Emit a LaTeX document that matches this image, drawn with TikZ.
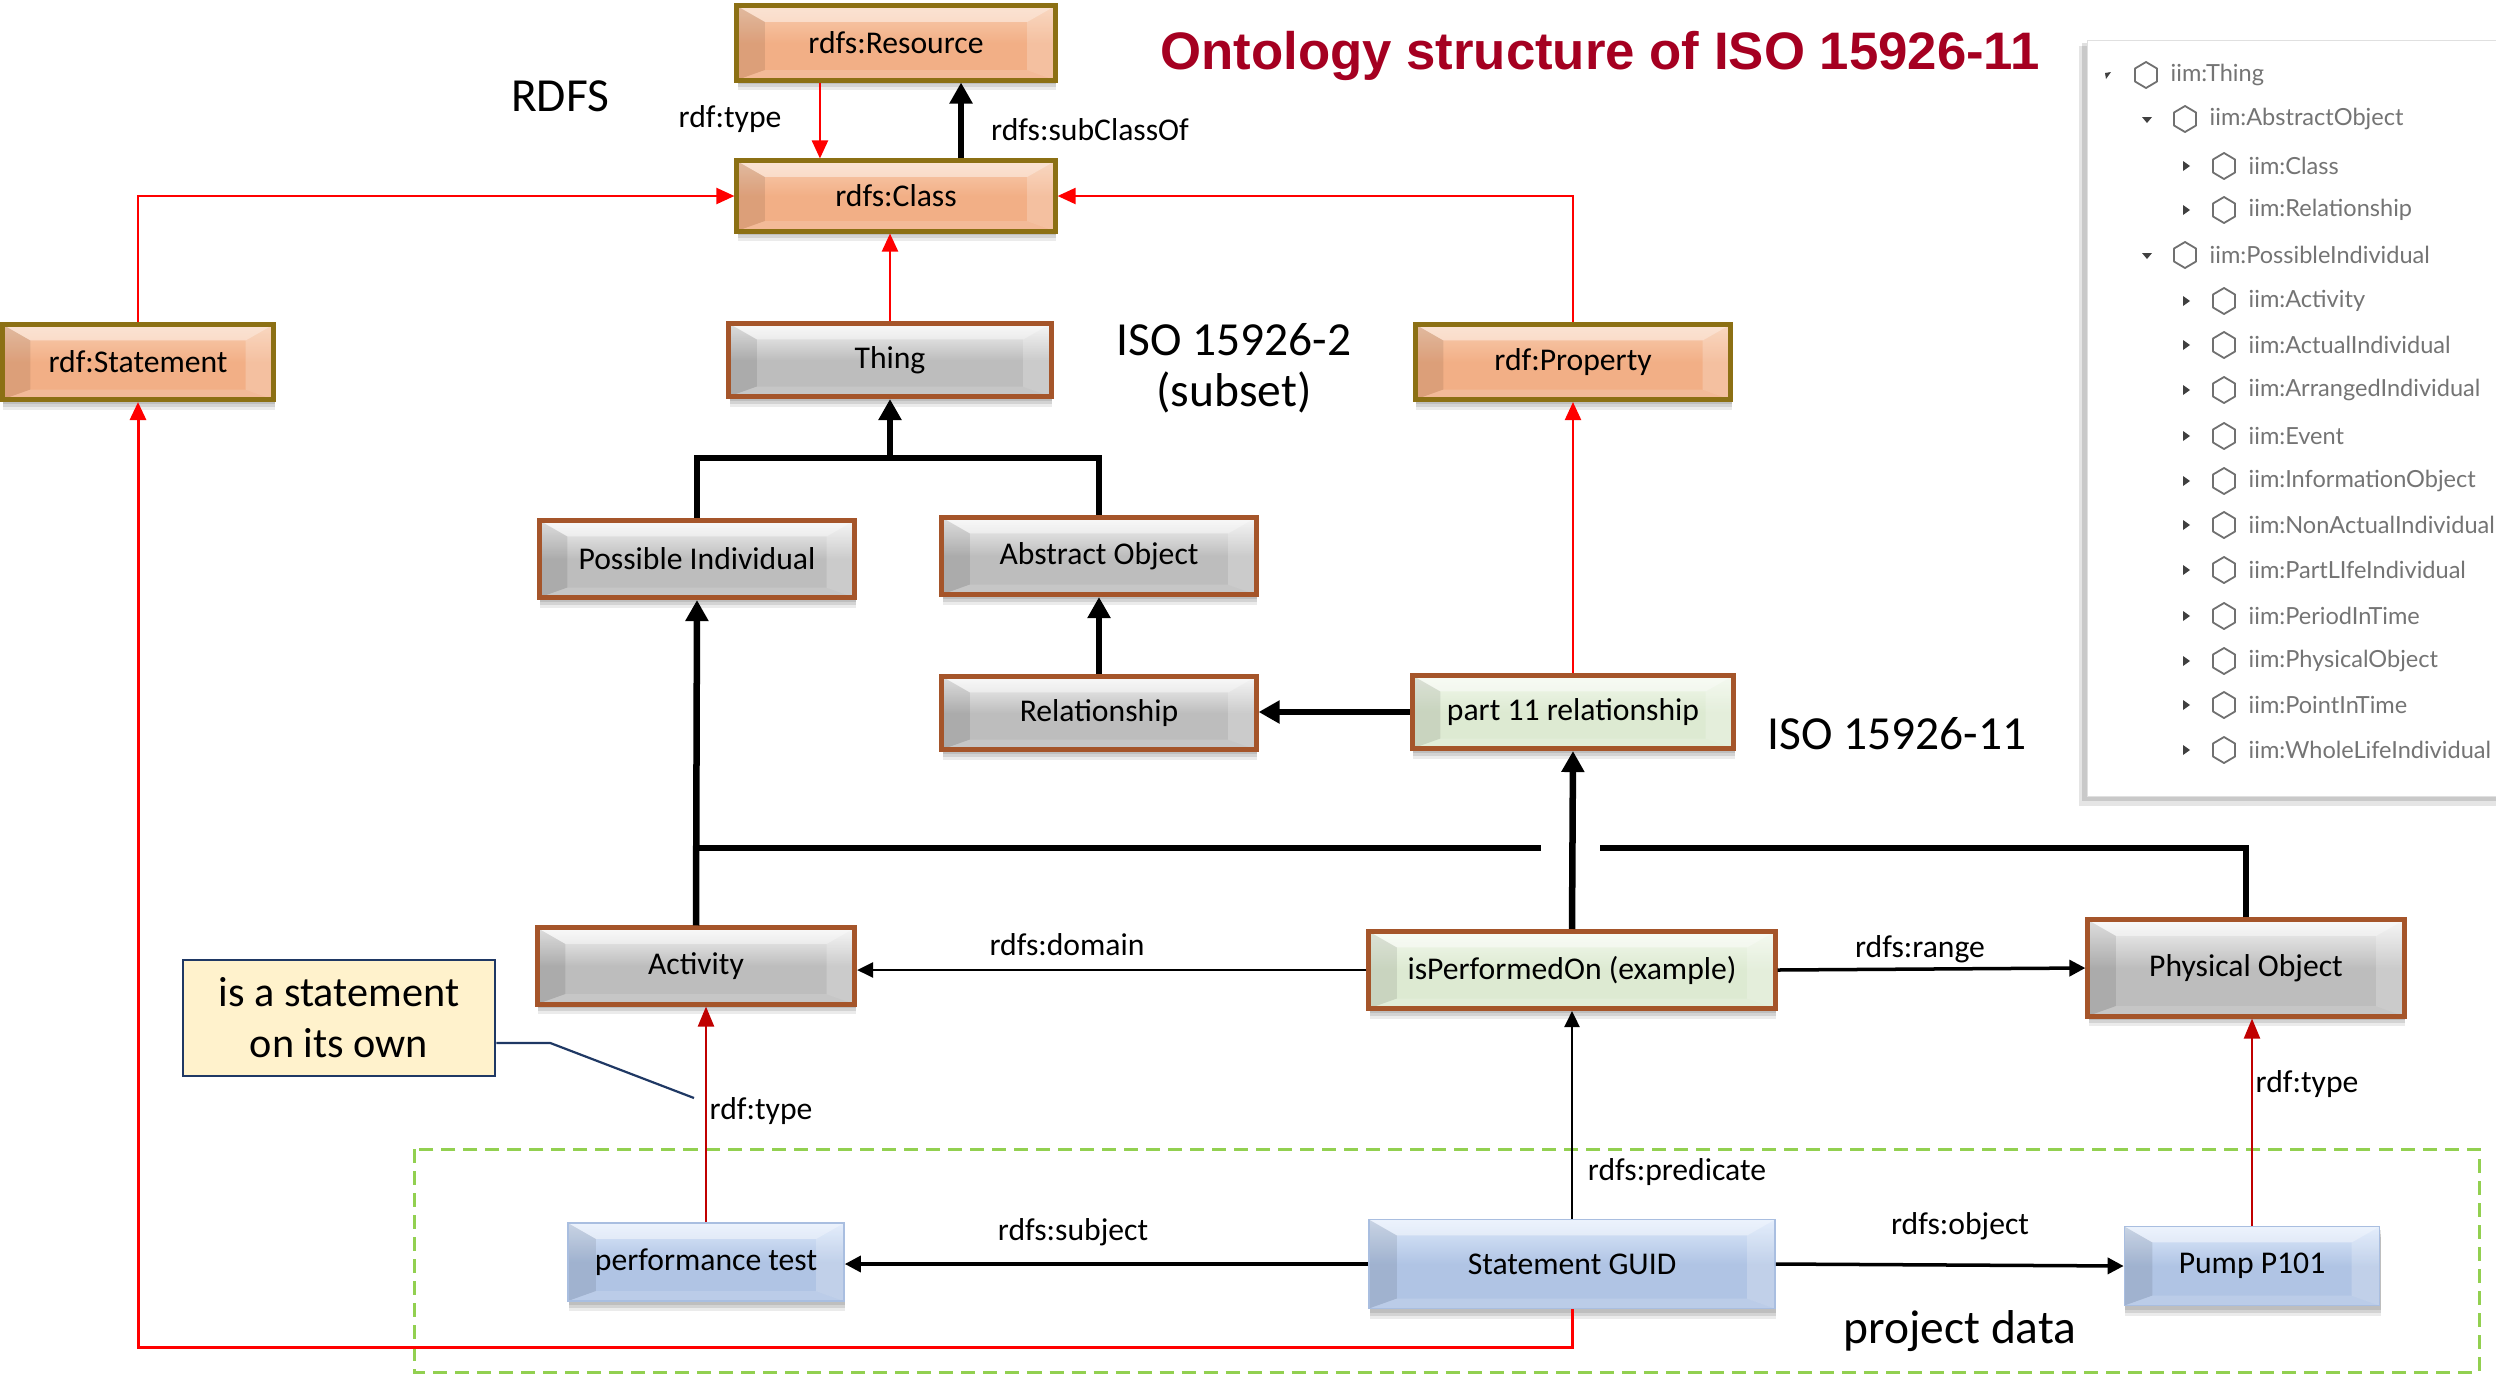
\documentclass[tikz,border=0pt]{standalone}
\usepackage{fontspec}
\setmainfont{Carlito}
\newfontfamily\titlefont{Liberation Sans}
\newfontfamily\panelfont{Lato}
\usetikzlibrary{arrows.meta,calc,shadows}

\definecolor{titlered}{HTML}{A50021}
\definecolor{frbrown}{HTML}{A5552A}
\definecolor{frgold}{HTML}{8C7014}
\definecolor{grayface}{HTML}{BDBDBD}
\definecolor{graytop}{HTML}{F4F4F4}
\definecolor{orface}{HTML}{F2AF86}
\definecolor{ortop}{HTML}{F8CDB0}
\definecolor{grface}{HTML}{DDEAD2}
\definecolor{grtop}{HTML}{F2F8EC}
\definecolor{blface}{HTML}{B0C4E4}
\definecolor{bltop}{HTML}{DDE9FB}
\definecolor{blframe}{HTML}{A9BEE0}
\definecolor{notefill}{HTML}{FFF2CC}
\definecolor{navy}{HTML}{1F3864}
\definecolor{typered}{HTML}{C00000}
\definecolor{dashgreen}{HTML}{92D050}
\definecolor{paneltext}{HTML}{747474}
\definecolor{hexgray}{HTML}{707070}

\tikzset{
  x=0.01cm, y=-0.01cm,
  box/.style={rectangle, inner sep=0pt, font=\fontsize{9}{11}\selectfont,
    drop shadow={shadow xshift=0.01cm, shadow yshift=-0.04cm, opacity=0.10, fill=black},
    drop shadow={shadow xshift=0.01cm, shadow yshift=-0.07cm, opacity=0.10, fill=black},
    drop shadow={shadow xshift=0.01cm, shadow yshift=-0.10cm, opacity=0.08, fill=black}},
  bevel/.style 2 args={path picture={
    \coordinate (pnw) at (path picture bounding box.north west);
    \coordinate (pne) at (path picture bounding box.north east);
    \coordinate (psw) at (path picture bounding box.south west);
    \coordinate (pse) at (path picture bounding box.south east);
    \shade[top color=#1, bottom color=#2, middle color=#2] (psw) rectangle (pne);
    \fill[white, opacity=0.45] (pnw) -- (pne) -- ($(pne)+(-28,16)$) -- ($(pnw)+(28,16)$) -- cycle;
    \fill[black, opacity=0.09] (pnw) -- ($(pnw)+(28,16)$) -- ($(psw)+(28,-10)$) -- (psw) -- cycle;
    \fill[white, opacity=0.22] (pne) -- ($(pne)+(-28,16)$) -- ($(pse)+(-28,-10)$) -- (pse) -- cycle;
    \fill[white, opacity=0.15] (psw) -- (pse) -- ($(pse)+(-28,-10)$) -- ($(psw)+(28,-10)$) -- cycle;
  }},
  graybox/.style={box, bevel={graytop}{grayface}, draw=frbrown, line width=0.05cm},
  greenbox/.style={box, bevel={grtop}{grface}, draw=frbrown, line width=0.05cm},
  orbox/.style={box, bevel={ortop}{orface}, draw=frgold, line width=0.05cm},
  bluebox/.style={box, bevel={bltop}{blface}, draw=blframe, line width=0.015cm},
  notebox/.style={rectangle, fill=notefill, draw=navy, line width=0.025cm,
    align=center, font=\fontsize{12}{14.5}\selectfont},
  lbl/.style={inner sep=0pt, font=\fontsize{9}{11}\selectfont},
  biglbl/.style={inner sep=0pt, align=center, font=\fontsize{13.5}{14.5}\selectfont},
  isa/.style={line width=0.065cm, -{Triangle[width=0.22cm,length=0.21cm]}},
  isaline/.style={line width=0.065cm},
  rdfred/.style={red, line width=0.022cm, -{Triangle[width=0.16cm,length=0.18cm]}},
  typearrow/.style={typered, line width=0.022cm, -{Triangle[width=0.16cm,length=0.2cm]}},
  prop/.style={black, line width=0.025cm, -{Triangle[width=0.15cm,length=0.16cm]}},
  propthick/.style={black, line width=0.035cm, -{Triangle[width=0.16cm,length=0.16cm]}},
  stmline/.style={red, line width=0.03cm, -{Triangle[width=0.16cm,length=0.18cm]}},
  paneltxt/.style={anchor=west, inner sep=0pt, text=paneltext,
    font=\panelfont\fontsize{6.7}{8}\selectfont},
}

\begin{document}
\begin{tikzpicture}
\useasboundingbox (0,0) rectangle (2496,1375);

% title and section captions
\node[font=\titlefont\bfseries\fontsize{15}{18}\selectfont, text=titlered, inner sep=0pt]
  (title) at (1600,56) {Ontology structure of ISO 15926-11};
\node[biglbl] (rdfs) at (560,96) {RDFS};
\node[biglbl] (iso2) at (1234,368) {ISO 15926-2\\(subset)};
\node[biglbl] (iso11) at (1897,734) {ISO 15926-11};

% project data frame
\draw[dashgreen, line width=0.03cm, dash pattern=on 0.14cm off 0.08cm]
  (414,1149) rectangle (2479,1372);
\node[biglbl] (pdata) at (1960,1331) {project data};

% class hierarchy browser
\fill[black, opacity=0.10] (2079,46) rectangle (2510,806);
\fill[black, opacity=0.12] (2082,43) rectangle (2510,801);
\fill[white] (2087,40) rectangle (2510,796);
\draw[black!12, line width=0.01cm] (2087,40) rectangle (2510,796);
\foreach \lv/\yy/\tx in {
  1/75/iim:Thing, 2/119/iim:AbstractObject, 3/166/iim:Class,
  3/210/iim:Relationship, 2/255/iim:PossibleIndividual, 3/301/iim:Activity,
  3/345/iim:ActualIndividual, 3/390/iim:ArrangedIndividual, 3/436/iim:Event,
  3/481/iim:InformationObject, 3/525/iim:NonActualIndividual,
  3/570/iim:PartLIfeIndividual, 3/616/iim:PeriodInTime,
  3/661/iim:PhysicalObject, 3/705/iim:PointInTime, 3/750/iim:WholeLifeIndividual}{
  \pgfmathsetmacro{\xt}{2108+39*(\lv-1)}
  \pgfmathsetmacro{\xh}{\xt+38}
  \pgfmathsetmacro{\xl}{\xt+62}
  \ifnum\lv=3
    \fill[black!75] (\xt-3,\yy-5) -- (\xt+4,\yy) -- (\xt-3,\yy+5) -- cycle;
  \else\ifnum\lv=2
    \fill[black!75] (\xt-5,\yy-2) -- (\xt+5,\yy-2) -- (\xt,\yy+4) -- cycle;
  \else
    \fill[black!75] (\xt-3,\yy-2) -- (\xt+3,\yy-3) -- (\xt-2,\yy+4) -- cycle;
  \fi\fi
  \draw[hexgray, line width=0.018cm, line join=round]
    (\xh,\yy-13) -- (\xh+11,\yy-6.5) -- (\xh+11,\yy+6.5) -- (\xh,\yy+13)
    -- (\xh-11,\yy+6.5) -- (\xh-11,\yy-6.5) -- cycle;
  \node[paneltxt] at (\xl,\yy) {\tx};
}

% RDFS layer
\node[orbox, minimum width=3.18cm, minimum height=0.74cm] (res) at (896,43) {rdfs:Resource};
\node[orbox, minimum width=3.18cm, minimum height=0.70cm] (cls) at (896,196) {rdfs:Class};
\node[orbox, minimum width=2.71cm, minimum height=0.75cm] (stm) at (138,362) {rdf:Statement};
\node[orbox, minimum width=3.15cm, minimum height=0.75cm] (prp) at (1573,362) {rdf:Property};

% ISO 15926-2 layer
\node[graybox, minimum width=3.22cm, minimum height=0.73cm] (thing) at (890,360) {Thing};
\node[graybox, minimum width=3.15cm, minimum height=0.77cm] (pind) at (697,559) {Possible Individual};
\node[graybox, minimum width=3.14cm, minimum height=0.77cm] (aobj) at (1099,556) {Abstract Object};
\node[graybox, minimum width=3.14cm, minimum height=0.73cm] (rel) at (1099,713) {Relationship};
\node[graybox, minimum width=3.17cm, minimum height=0.76cm] (act) at (696,966) {Activity};
\node[graybox, minimum width=3.16cm, minimum height=0.96cm] (pobj) at (2246,968) {Physical Object};

% ISO 15926-11 layer
\node[greenbox, minimum width=3.21cm, minimum height=0.73cm] (p11) at (1573,712) {part 11 relationship};
\node[greenbox, minimum width=4.06cm, minimum height=0.77cm] (isp) at (1572,970) {isPerformedOn (example)};

% project data
\node[bluebox, minimum width=2.76cm, minimum height=0.78cm] (ptest) at (706,1262) {performance test};
\node[bluebox, minimum width=4.06cm, minimum height=0.89cm] (guid) at (1572,1264) {Statement GUID};
\node[bluebox, minimum width=2.55cm, minimum height=0.79cm] (pump) at (2252,1266) {Pump P101};

% note
\node[notebox, minimum width=3.12cm, minimum height=1.16cm] (note) at (339,1018) {is a statement\\on its own};

% RDFS relations
\draw[rdfred] ([xshift=-0.76cm]res.south) -- ([xshift=-0.76cm]cls.north);
\draw[isa] ([xshift=0.65cm]cls.north) -- ([xshift=0.65cm]res.south);
\node[lbl] (lres) at (730,119) {rdf:type};
\node[lbl] (lsub) at (1090,130) {rdfs:subClassOf};
\draw[rdfred] (stm.north) |- (cls.west);
\draw[rdfred] (prp.north) |- (cls.east);
\draw[rdfred] (thing.north) -- (thing.north |- cls.south);
\draw[rdfred] (p11.north) -- (prp.south);

% specialisation tree
\coordinate (tj) at (0,458);
\draw[isaline] (pind.north) -- (pind.north |- tj) -- (aobj.north |- tj) -- (aobj.north);
\draw[isa] (thing.south |- tj) -- (thing.south);
\draw[isa] (rel.north) -- (aobj.south);
\draw[isa] (p11.west) -- (p11.west -| rel.east);
\coordinate (bus) at (0,848);
\coordinate (gapl) at (1541,848);
\coordinate (gapr) at (1600,848);
\draw[isa] (act.north) -- (pind.south);
\draw[isaline] (act.north |- bus) -- (gapl);
\draw[isaline] (pobj.north) -- (pobj.north |- bus) -- (gapr);
\draw[isa] (isp.north) -- (p11.south);

% property definition
\draw[prop] (isp.west) -- (isp.west -| act.east);
\node[lbl] (ldom) at (1067,945) {rdfs:domain};
\draw[propthick] (isp.east) -- (pobj.west);
\node[lbl] (lrng) at (1920,949) {rdfs:range};

% the statement
\draw[prop] (guid.north) -- (isp.south);
\node[lbl] (lpred) at (1677,1172) {rdfs:predicate};
\draw[propthick] (guid.west) -- (guid.west -| ptest.east);
\node[lbl] (lsubj) at (1073,1232) {rdfs:subject};
\draw[propthick] (guid.east) -- (pump.west);
\node[lbl] (lobj) at (1960,1226) {rdfs:object};
\draw[typearrow] (ptest.north) -- (ptest.north |- act.south);
\node[lbl] (ltyp1) at (761,1111) {rdf:type};
\draw[typearrow] (pump.north) -- (pump.north |- pobj.south);
\node[lbl] (ltyp2) at (2307,1084) {rdf:type};
\coordinate (lowbus) at (0,1347);
\draw[stmline] (guid.south) -- (guid.south |- lowbus) -| (stm.south);

% note pointer
\coordinate (notetip) at (694,1098);
\draw[navy, line width=0.022cm] ([yshift=-0.25cm]note.east) -- ++(54,0) -- (notetip);

\end{tikzpicture}
\end{document}
